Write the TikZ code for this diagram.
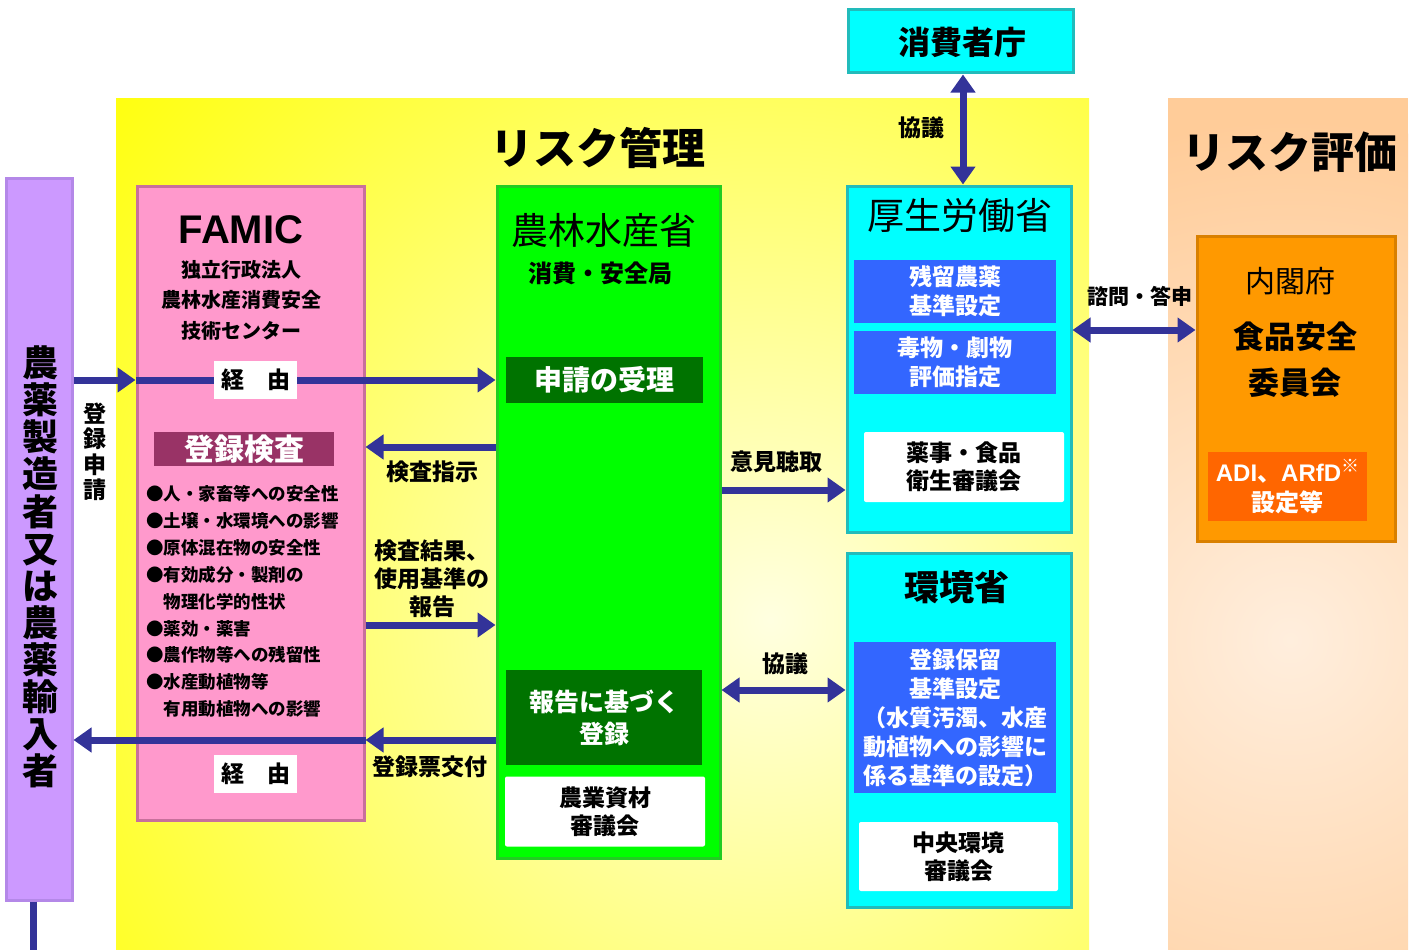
\documentclass[tikz,border=0pt]{standalone}
\usepackage{fontspec}
\setmainfont{Noto Sans CJK JP}
\newfontfamily\latinfont{Liberation Sans}
\usetikzlibrary{arrows.meta}

\definecolor{arrowblue}{HTML}{333399}
\definecolor{applpurple}{HTML}{CC99FF}
\definecolor{applborder}{HTML}{B488E8}
\definecolor{famicpink}{HTML}{FF99CC}
\definecolor{famicborder}{HTML}{C8709C}
\definecolor{kensared}{HTML}{993366}
\definecolor{maffgreen}{HTML}{00FF00}
\definecolor{maffborder}{HTML}{22CC22}
\definecolor{darkgreen}{HTML}{007300}
\definecolor{govcyan}{HTML}{00FFFF}
\definecolor{cyanborder}{HTML}{22BBBB}
\definecolor{taskblue}{HTML}{3366FF}
\definecolor{fscorange}{HTML}{FF9900}
\definecolor{fscborder}{HTML}{D98000}
\definecolor{adiorange}{HTML}{FF6600}
\definecolor{peach}{HTML}{FFCC99}
\definecolor{palepeach}{HTML}{FFEEDD}
\definecolor{riskyellow}{HTML}{FFFF00}

\newcommand{\fsz}[2]{\fontsize{#1}{#2}\selectfont}

\begin{document}
\begin{tikzpicture}[x=1pt, y=-1pt,
    arr/.style={draw=arrowblue, line width=7pt, -{Triangle[length=18pt,width=24pt]}},
    darr/.style={draw=arrowblue, line width=7pt,
        {Triangle[length=18pt,width=24pt]}-{Triangle[length=18pt,width=24pt]}},
    panel/.style={draw=#1, line width=3pt, inner sep=0pt},
    task/.style={fill=taskblue, text=white, font=\fsz{23}{29}\bfseries, align=center,
        minimum width=202, inner sep=0pt},
    council/.style={fill=white, rounded corners=2pt, font=\fsz{23}{28}\bfseries,
        align=center, minimum width=200, minimum height=70, inner sep=0pt},
    via/.style={fill=white, font=\fsz{23}{23}\bfseries, minimum width=83,
        minimum height=38, inner sep=0pt},
    lbl/.style={font=\fsz{23}{28}\bfseries, align=center, inner sep=0pt}]

    \useasboundingbox (0,0) rectangle (1414,950);
    \fill[white] (0,0) rectangle (1414,950);

    % Regions
    \fill[riskyellow] (116,98) rectangle (1089,950);
    \begin{scope}
        \clip (116,98) rectangle (1089,950);
        \shade[inner color=riskyellow!12, outer color=riskyellow] (770,620) circle (900);
    \end{scope}
    \fill[peach] (1168,98) rectangle (1408,950);
    \begin{scope}
        \clip (1168,98) rectangle (1408,950);
        \shade[inner color=palepeach, outer color=peach] (1290,640) circle (520);
    \end{scope}
    \node[font=\fsz{43}{43}\bfseries] (kanri) at (598,148) {リスク管理};
    \node[font=\fsz{43}{43}\bfseries] (hyoka) at (1290,152) {リスク評価};

    % Nodes
    \node[panel=applborder, fill=applpurple, minimum width=66, minimum height=722]
        (appl) at (39,539) {};
    \node[font=\fsz{36}{37.1}\bfseries, align=center] (applname) at (40,567)
        {農\\薬\\製\\造\\者\\又\\は\\農\\薬\\輸\\入\\者};
    \node[font=\fsz{23}{25.5}\bfseries, align=center] (shinsei) at (95,452)
        {登\\録\\申\\請};

    \node[panel=famicborder, fill=famicpink, minimum width=227, minimum height=634]
        (famic) at (250.5,503) {};
    \node[font=\latinfont\fsz{40}{40}\bfseries] (famicname) at (241,230) {FAMIC};
    \node[font=\fsz{20}{30.5}\bfseries, align=center] (famicfull) at (241,300)
        {独立行政法人\\農林水産消費安全\\技術センター};
    \node[via] (via1) at (255.5,380) {経　由};
    \node[fill=kensared, text=white, font=\fsz{30}{30}\bfseries, minimum width=180,
        minimum height=34, inner sep=0pt] (kensa) at (244,449) {登録検査};
    \node[font=\fsz{17.5}{26.9}\bfseries, align=left, anchor=west, inner sep=0pt]
        (items) at (146,601.5)
        {●人・家畜等への安全性\\●土壌・水環境への影響\\●原体混在物の安全性\\
         ●有効成分・製剤の\\\phantom{●}物理化学的性状\\●薬効・薬害\\
         ●農作物等への残留性\\●水産動植物等\\\phantom{●}有用動植物への影響};
    \node[via] (via2) at (255.5,774) {経　由};

    \node[panel=maffborder, fill=maffgreen, minimum width=223, minimum height=672]
        (maff) at (608.5,522) {};
    \node[font=\fsz{37}{37}] (maffname) at (604,230) {農林水産省};
    \node[font=\fsz{24}{24}\bfseries] (maffbur) at (600,273) {消費・安全局};
    \node[fill=darkgreen, text=white, font=\fsz{28}{28}\bfseries, minimum width=197,
        minimum height=46, inner sep=0pt] (juri) at (604.5,380) {申請の受理};
    \node[fill=darkgreen, text=white, font=\fsz{25}{32}\bfseries, align=center,
        minimum width=196, minimum height=95, inner sep=0pt] (toroku) at (604,717.5)
        {報告に基づく\\登録};
    \node[council] (nogyo) at (605,811.5) {農業資材\\審議会};

    \node[panel=cyanborder, fill=govcyan, minimum width=225, minimum height=63]
        (caa) at (960.5,41.5) {};
    \node[font=\fsz{32}{32}\bfseries] (caaname) at (962,42) {消費者庁};

    \node[panel=cyanborder, fill=govcyan, minimum width=224, minimum height=346]
        (mhlw) at (959,359) {};
    \node[font=\fsz{37}{37}] (mhlwname) at (960,216) {厚生労働省};
    \node[task, minimum height=63] (zanryu) at (955,291.5) {残留農薬\\基準設定};
    \node[task, minimum height=63] (dokubutsu) at (955,362.5) {毒物・劇物\\評価指定};
    \node[council] (yakuji) at (964,467) {薬事・食品\\衛生審議会};

    \node[panel=cyanborder, fill=govcyan, minimum width=224, minimum height=354]
        (moe) at (959,730) {};
    \node[font=\fsz{35}{35}\bfseries] (moename) at (957,587) {環境省};
    \node[task, minimum height=151] (horyu) at (955,717.5)
        {登録保留\\基準設定\\（水質汚濁、水産\\動植物への影響に\\係る基準の設定）};
    \node[council, minimum width=199, minimum height=69] (chuo) at (958.5,856.5)
        {中央環境\\審議会};

    \node[panel=fscborder, fill=fscorange, minimum width=198, minimum height=305]
        (fsc) at (1296,388.5) {};
    \node[font=\fsz{30}{30}] (fscgov) at (1290,281) {内閣府};
    \node[font=\fsz{31}{46}\bfseries, align=center] (fscname) at (1295,360)
        {食品安全\\委員会};
    \node[fill=adiorange, text=white, font=\fsz{24}{30}\bfseries, align=center,
        minimum width=159, minimum height=69, inner sep=0pt] (adi) at (1287.5,486.5)
        {{\latinfont ADI}、{\latinfont ARfD}\raisebox{0.35em}{\fsz{18}{18}※}\\設定等};

    % Lines
    \draw[arr] (appl.east |- via1) -- (famic.west |- via1);
    \draw[draw=arrowblue, line width=7pt] (famic.west |- via1) -- (via1.west);
    \draw[arr] (via1.east) -- (maff.west |- via1);

    \draw[arr] (maff.west |- 0,447) -- (famic.east |- 0,447);
    \draw[arr] (famic.east |- 0,625) -- (maff.west |- 0,625);
    \draw[arr] (maff.west |- 0,740) -- (famic.east |- 0,740);
    \draw[arr] (famic.east |- 0,740) -- (appl.east |- 0,740);

    \draw[arr] (maff.east |- 0,490) -- (mhlw.west |- 0,490);
    \draw[darr] (maff.east |- 0,690) -- (moe.west |- 0,690);
    \draw[darr] (caa.south -| 963,0) -- (mhlw.north -| 963,0);
    \draw[darr] (mhlw.east |- 0,330) -- (fsc.west |- 0,330);

    \coordinate (bottom) at (33,950);
    \draw[draw=arrowblue, line width=7pt] (appl.south -| bottom) -- (bottom);

    % Labels
    \node[lbl] (shiji) at (432,472) {検査指示};
    \node[lbl] (hokoku) at (432,579) {検査結果、\\使用基準の\\報告};
    \node[lbl] (kofu) at (430,767) {登録票交付};
    \node[lbl] (choshu) at (776,462) {意見聴取};
    \node[lbl] (kyogi1) at (785,664) {協議};
    \node[lbl] (kyogi2) at (921,128) {協議};
    \node[font=\fsz{21}{21}\bfseries, inner sep=0pt] (shimon) at (1140,296) {諮問・答申};

\end{tikzpicture}
\end{document}
